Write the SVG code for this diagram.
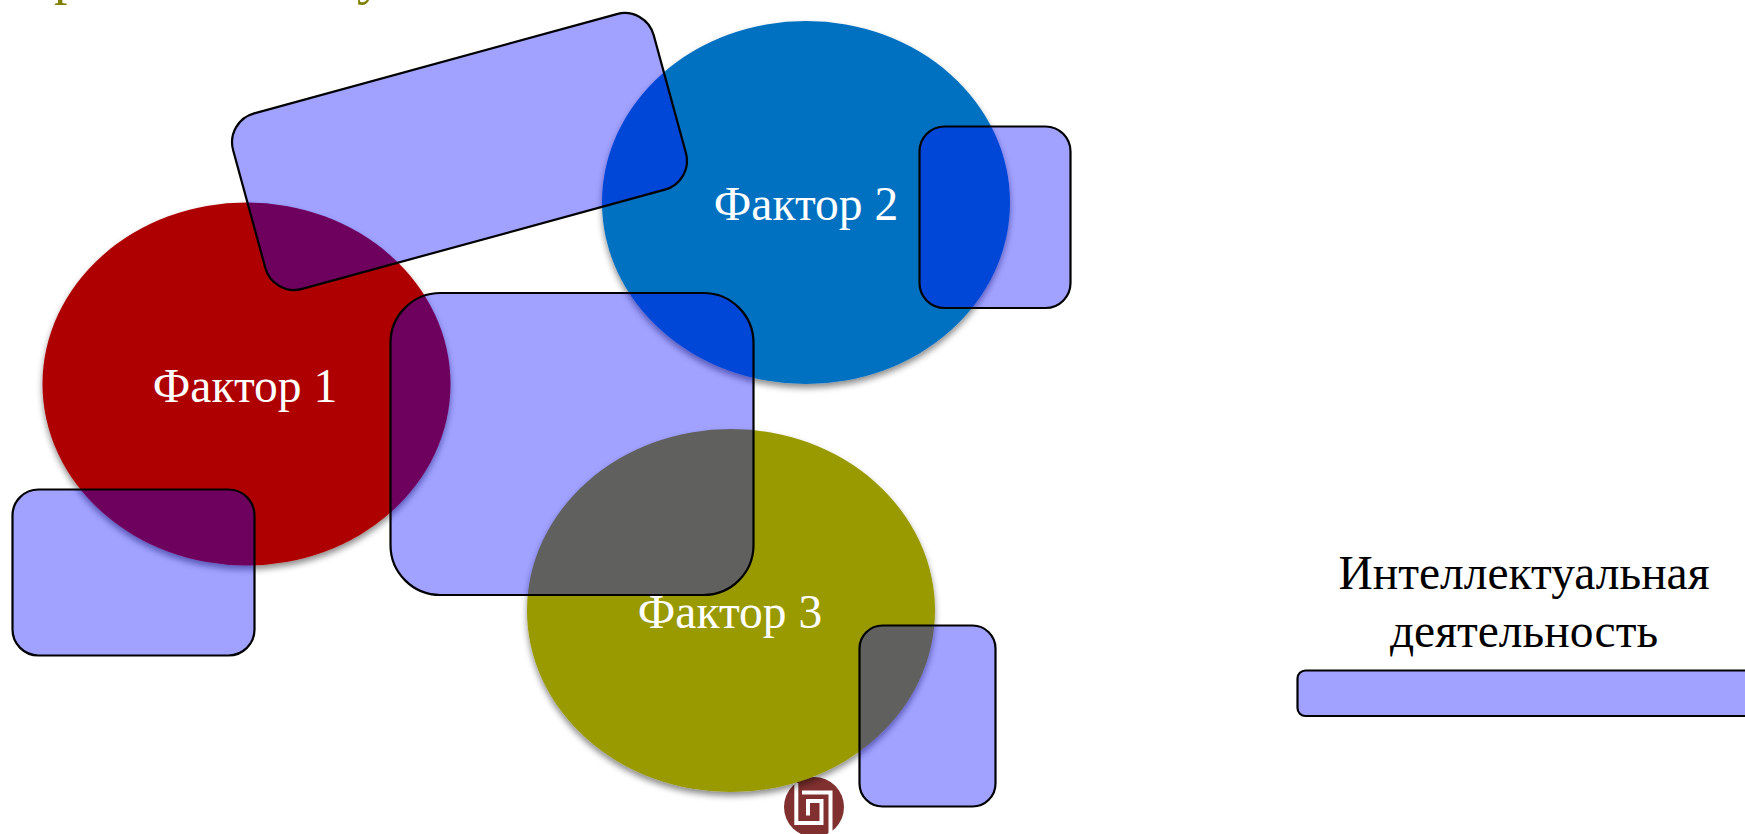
<svg xmlns="http://www.w3.org/2000/svg" width="1745" height="834" viewBox="0 0 1745 834">
<style>
.f{filter:url(#sh)}
.b{fill:#0000ff;fill-opacity:.37;stroke:#000;stroke-width:2.2}
.t{font-family:"Liberation Serif","Times New Roman",serif;font-size:47.5px;text-anchor:middle}
.w{fill:#fff}
.k{fill:#000}
.o{font-family:"Liberation Serif","Times New Roman",serif;font-size:54px;fill:#7f7f00}
</style>
<defs>
<filter id="sh" x="-10%" y="-10%" width="120%" height="125%">
<feDropShadow dx="0" dy="4" stdDeviation="3" flood-color="#000" flood-opacity=".45"/>
</filter>
</defs>
<rect width="1745" height="834" fill="#fff"/>
<g id="title-fragment">
<text class="o" x="54" y="-7">р</text>
<text class="o" x="357" y="-7">у</text>
</g>
<g id="logo">
<circle cx="814" cy="807" r="30" fill="#80302f"/>
<path d="M796.3 783V823H821.5V801H808V815.5M802 792.6H830.5V834" fill="none" stroke="#fff" stroke-width="4"/>
</g>
<g id="factor-1"><ellipse class="f" cx="246.5" cy="384" rx="204" ry="181.5" fill="#ae0000"/><text class="t w" x="245" y="402">Фактор 1</text></g>
<g id="factor-2"><ellipse class="f" cx="806" cy="202.5" rx="204" ry="181.5" fill="#0070c0"/><text class="t w" x="806" y="220">Фактор 2</text></g>
<g id="factor-3"><ellipse class="f" cx="731" cy="610.5" rx="204" ry="181.5" fill="#999900"/><text class="t w" x="730" y="628">Фактор 3</text></g>
<g id="block-top"><rect class="b" x="241.5" y="60.5" width="436" height="182" rx="30" transform="rotate(-15.3 459.5 151.5)"/></g>
<g id="block-center"><rect class="b" x="390.5" y="293" width="363" height="302" rx="50"/></g>
<g id="block-left"><rect class="b" x="12.5" y="489.5" width="242" height="166" rx="26"/></g>
<g id="block-right-top"><rect class="b" x="919.5" y="126.5" width="151" height="181.5" rx="25"/></g>
<g id="block-right-bottom"><rect class="b" x="859.5" y="625.5" width="136" height="181" rx="23"/></g>
<g id="intellectual-activity">
<text class="t k" x="1524" y="589">Интеллектуальная</text>
<text class="t k" x="1524" y="647">деятельность</text>
<rect class="b" x="1297.5" y="670.5" width="480" height="45.5" rx="8"/>
</g>
</svg>
